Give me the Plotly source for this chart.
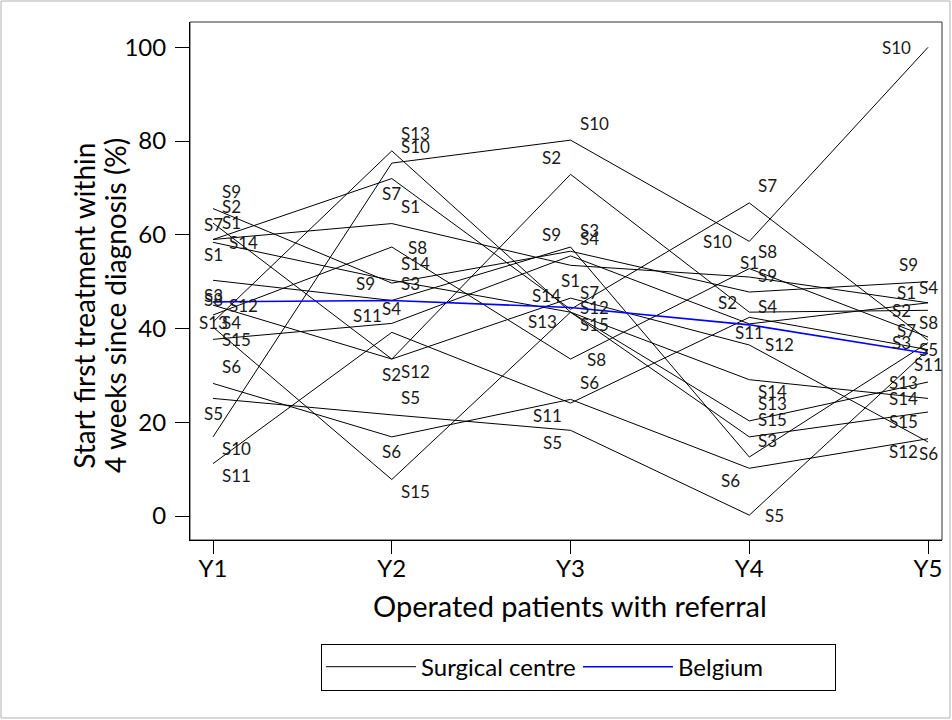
import plotly.graph_objects as go

years = ["Y1", "Y2", "Y3", "Y4", "Y5"]
centres = ["S1", "S2", "S3", "S4", "S5", "S6", "S7", "S8", "S9", "S10",
           "S11", "S12", "S13", "S14", "S15"]

S1 = [59.0, 62.4, 53.5, 51.0, 45.5]
S2 = [62.5, 33.5, 72.9, 43.5, 43.9]
S3 = [50.3, 46.0, 57.4, 12.6, 37.0]
S4 = [37.7, 41.1, 55.5, 41.0, 45.5]
S5 = [25.1, 21.6, 18.3, 0.2, 35.5]
S6 = [28.3, 16.9, 24.9, 10.2, 16.5]
S7 = [59.0, 72.0, 44.1, 66.8, 37.5]
S8 = [42.9, 57.4, 33.5, 52.8, 38.2]
S9 = [65.6, 49.7, 56.5, 47.8, 50.0]
S10 = [16.9, 75.3, 80.2, 58.6, 100.0]
S11 = [11.2, 39.2, 24.1, 42.4, 35.5]
S12 = [45.0, 33.5, 46.5, 36.5, 15.8]
S13 = [41.4, 77.9, 43.5, 20.3, 28.6]
S14 = [58.4, 50.3, 43.5, 29.1, 25.1]
S15 = [40.3, 7.8, 43.5, 16.9, 22.2]
belgium = [45.7, 46.0, 44.5, 40.8, 34.7]

series = [S1, S2, S3, S4, S5, S6, S7, S8, S9, S10, S11, S12, S13, S14, S15]

# label clock positions (style only), per centre per year
label_clock = {
    "S1": [1, 1, 6, 12, 10],
    "S2": [1, 6, 11, 10, 9],
    "S3": [6, 1, 1, 1, 9],
    "S4": [1, 12, 1, 1, 12],
    "S5": [6, 1, 7, 3, 0],
    "S6": [1, 6, 1, 7, 6],
    "S7": [12, 6, 1, 1, 10],
    "S8": [12, 3, 3, 1, 12],
    "S9": [1, 9, 11, 1, 11],
    "S10": [4, 1, 1, 9, 9],
    "S11": [4, 11, 7, 6, 6],
    "S12": [3, 4, "4n", 3, "8n"],
    "S13": [0, 1, 8, 1, "9n"],
    "S14": [3, 1, 11, 4, "9n"],
    "S15": [4, 4, 4, 1, "8n"],
}
extra_labels = [("S1", 0, 6)]

clock = {
    0: ("center", 0, 0), 12: ("center", 0, 15), 1: ("left", 7, 17),
    2: ("left", 12, 9), 3: ("left", 14, 0), "4n": ("left", 7, -9),
    4: ("left", 7, -12), 5: ("left", 3, -15), 6: ("center", 0, -15),
    7: ("right", -7, -12), 8: ("right", -12, -9), "8n": ("right", -8, -9),
    9: ("right", -15, 0), "9n": ("right", -8, 0), 10: ("right", -10, 10),
    11: ("right", -8, 17),
}

FONT = "Lato, Carlito, Calibri, sans-serif"
fig = go.Figure()
for i, (name, vals) in enumerate(zip(centres, series)):
    fig.add_trace(go.Scatter(
        x=years, y=vals, mode="lines", name="Surgical centre",
        legendgroup="sc", showlegend=(i == 0),
        line=dict(color="black", width=1), hoverinfo="skip"))
fig.add_trace(go.Scatter(
    x=years, y=belgium, mode="lines", name="Belgium",
    line=dict(color="#0000ff", width=1.6)))

annotations = []
def add_label(name, vals, j, c):
    xa, dx, dy = clock[c]
    annotations.append(dict(
        x=years[j], y=vals[j], xref="x", yref="y", text=name,
        showarrow=False, xanchor=xa, yanchor="middle", xshift=dx, yshift=dy,
        font=dict(family=FONT, size=17, color="#1a1a1a")))

for name, vals in zip(centres, series):
    for j in range(len(years)):
        add_label(name, vals, j, label_clock[name][j])
for name, j, c in extra_labels:
    add_label(name, series[centres.index(name)], j, c)

annotations.append(dict(
    text="Operated patients with referral", xref="paper", yref="paper",
    x=0.505, y=-0.1255, showarrow=False, xanchor="center", yanchor="middle",
    font=dict(family=FONT, size=29, color="black")))
annotations.append(dict(
    text="Start first treatment within", xref="paper", yref="paper",
    x=-0.1410, y=0.452, textangle=-90, showarrow=False,
    xanchor="center", yanchor="middle",
    font=dict(family=FONT, size=28, color="black")))
annotations.append(dict(
    text="4 weeks since diagnosis (%)", xref="paper", yref="paper",
    x=-0.0997, y=0.452, textangle=-90, showarrow=False,
    xanchor="center", yanchor="middle",
    font=dict(family=FONT, size=28, color="black")))

fig.update_layout(
    width=952, height=720,
    margin=dict(l=190, r=10, t=22, b=180),
    paper_bgcolor="white", plot_bgcolor="white",
    font=dict(family=FONT, color="black"),
    annotations=annotations,
    showlegend=True,
    legend=dict(orientation="h", x=0.5166, y=-0.2, xanchor="center",
                yanchor="top", bordercolor="black", borderwidth=1,
                font=dict(family=FONT, size=24), entrywidth=152,
                entrywidthmode="pixels", itemwidth=90),
    xaxis=dict(type="category", range=[-0.129, 4.078], showgrid=False,
               zeroline=False, showline=True, linecolor="black",
               linewidth=1, ticks="outside", ticklen=13,
               tickcolor="black", ticklabelstandoff=-6,
               tickfont=dict(family=FONT, size=24)),
    yaxis=dict(range=[-5.1, 105.4], tickvals=[0, 20, 40, 60, 80, 100],
               showgrid=False, zeroline=False, showline=True,
               linecolor="black", linewidth=1, ticks="outside",
               ticklen=14, tickcolor="black", ticklabelstandoff=4,
               tickfont=dict(family=FONT, size=24)),
    shapes=[
        dict(type="rect", xref="paper", yref="paper", x0=0, x1=1, y0=0,
             y1=1, line=dict(color="#333333", width=1), layer="below"),
        dict(type="rect", xref="paper", yref="paper", x0=-0.2513,
             x1=1.0106, y0=-0.3436, y1=1.0405,
             line=dict(color="#b0b0b0", width=1), layer="below"),
    ],
)
fig.write_html("out.html", config={"displayModeBar": False},
               post_script="document.body.style.margin='0';"
                           "document.body.style.overflow='hidden';")
